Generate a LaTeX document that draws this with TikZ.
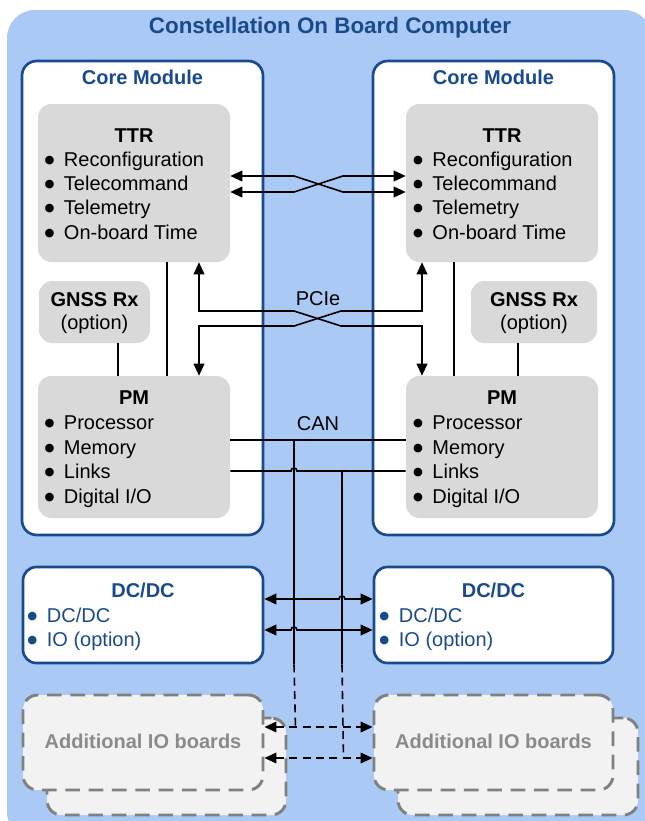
\documentclass[tikz,border=0pt]{standalone}
\usepackage{fontspec}
\setmainfont{Liberation Sans}
\newfontfamily\dotfont{DejaVu Sans}
\usetikzlibrary{calc}
\usetikzlibrary{arrows.meta}
\definecolor{board}{HTML}{ABC9F5}
\definecolor{navy}{HTML}{1A4A8E}
\definecolor{partgray}{HTML}{D9D9D9}
\definecolor{iofill}{HTML}{F2F2F2}
\definecolor{iodraw}{HTML}{808080}
\definecolor{iotext}{HTML}{8A8A8A}
\newlength{\px}
\setlength{\px}{0.75pt}
\newcommand*{\bul}{\makebox[14.6pt][l]{\raisebox{2pt}{\dotfont\fontsize{8.5}{9}\selectfont ●}}}

\begin{document}
\begin{tikzpicture}[x=0.75pt, y=-0.75pt, font=\fontsize{15}{18}\selectfont,
    >={Triangle[length=9pt,width=8pt]},
    core/.style  = {draw=navy, line width=2pt, fill=white, rounded corners=11pt, inner sep=0pt},
    part/.style  = {fill=partgray, rounded corners=10pt, inner sep=0pt},
    power/.style = {draw=navy, line width=2pt, fill=white, rounded corners=10pt, inner sep=0pt},
    extra/.style = {draw=iodraw, line width=2.2pt, fill=iofill, rounded corners=11pt, inner sep=0pt, dash pattern=on 11pt off 6.5pt},
    head/.style  = {anchor=base, inner sep=0pt, font=\fontsize{15}{18}\selectfont\bfseries},
    item/.style  = {anchor=base west, inner sep=0pt},
    wire/.style  = {line width=1.2pt},
    link/.style  = {wire, <->},
    dashline/.style = {dash pattern=on 6pt off 4pt}]
    \useasboundingbox (0,0) rectangle (644,821);
    \fill [board, rounded corners=21pt] (7,10) rectangle (652,840);
    \node [head, text=navy, font=\fontsize{16.8}{20}\selectfont\bfseries] (obc) at (330,33) {Constellation On Board Computer};

    \node [core, minimum width=241*\px, minimum height=474*\px] (coreL) at (142.5,298) {};
    \node [core, minimum width=241*\px, minimum height=474*\px] (coreR) at (493.5,298) {};
    \node [head, text=navy] (coreLt) at ($(coreL.north)+(0,25)$) {Core Module};
    \node [head, text=navy] (coreRt) at ($(coreR.north)+(0,25)$) {Core Module};

    \node [part, minimum width=192*\px, minimum height=158*\px] (ttrL) at (134,183) {};
    \node [part, minimum width=192*\px, minimum height=158*\px] (ttrR) at (502,183) {};
    \node [head] (ttrLt) at ($(ttrL)+(0,-41)$) {TTR};
    \node [head] (ttrRt) at ($(ttrR)+(0,-41)$) {TTR};
    \node [item] (ttrL1) at ($(ttrL.west)+(6.5,-17)$)  {\bul Reconfiguration};
    \node [item] (ttrL2) at ($(ttrL.west)+(6.5,7)$)    {\bul Telecommand};
    \node [item] (ttrL3) at ($(ttrL.west)+(6.5,31.5)$) {\bul Telemetry};
    \node [item] (ttrL4) at ($(ttrL.west)+(6.5,56)$)   {\bul On-board Time};
    \node [item] (ttrR1) at ($(ttrR.west)+(7,-17)$)    {\bul Reconfiguration};
    \node [item] (ttrR2) at ($(ttrR.west)+(7,7)$)      {\bul Telecommand};
    \node [item] (ttrR3) at ($(ttrR.west)+(7,31.5)$)   {\bul Telemetry};
    \node [item] (ttrR4) at ($(ttrR.west)+(7,56)$)     {\bul On-board Time};

    \node [part, minimum width=111*\px, minimum height=62*\px] (gnssL) at (94.5,312) {};
    \node [part, minimum width=126*\px, minimum height=62*\px] (gnssR) at (534,312) {};
    \node [head] (gnssLt) at ($(gnssL)+(0,-6)$) {GNSS Rx};
    \node [head] (gnssRt) at ($(gnssR)+(0,-6)$) {GNSS Rx};
    \node [anchor=base, inner sep=0pt] (gnssLo) at ($(gnssL)+(0,17.5)$) {(option)};
    \node [anchor=base, inner sep=0pt] (gnssRo) at ($(gnssR)+(0,17.5)$) {(option)};

    \node [part, minimum width=192*\px, minimum height=142*\px] (pmL) at (134,447) {};
    \node [part, minimum width=192*\px, minimum height=142*\px] (pmR) at (502,447) {};
    \node [head] (pmLt) at ($(pmL)+(0,-43)$) {PM};
    \node [head] (pmRt) at ($(pmR)+(0,-43)$) {PM};
    \node [item] (pmL1) at ($(pmL.west)+(6.5,-18)$)  {\bul Processor};
    \node [item] (pmL2) at ($(pmL.west)+(6.5,7)$)    {\bul Memory};
    \node [item] (pmL3) at ($(pmL.west)+(6.5,31)$)   {\bul Links};
    \node [item] (pmL4) at ($(pmL.west)+(6.5,56)$)   {\bul Digital I/O};
    \node [item] (pmR1) at ($(pmR.west)+(7,-18)$)    {\bul Processor};
    \node [item] (pmR2) at ($(pmR.west)+(7,7)$)      {\bul Memory};
    \node [item] (pmR3) at ($(pmR.west)+(7,31)$)     {\bul Links};
    \node [item] (pmR4) at ($(pmR.west)+(7,56)$)     {\bul Digital I/O};

    \node [power, minimum width=240*\px, minimum height=96*\px] (dcL) at (143,615) {};
    \node [power, minimum width=239*\px, minimum height=96*\px] (dcR) at (493.5,615) {};
    \node [head, text=navy] (dcLt) at ($(dcL)+(0,-18)$) {DC/DC};
    \node [head, text=navy] (dcRt) at ($(dcR)+(0,-18)$) {DC/DC};
    \node [item, text=navy] (dcL1) at ($(dcL.west)+(5.5,7)$)  {\bul DC/DC};
    \node [item, text=navy] (dcL2) at ($(dcL.west)+(5.5,31)$) {\bul IO (option)};
    \node [item, text=navy] (dcR1) at ($(dcR.west)+(6.5,7)$)  {\bul DC/DC};
    \node [item, text=navy] (dcR2) at ($(dcR.west)+(6.5,31)$) {\bul IO (option)};

    \node [extra, minimum width=239*\px, minimum height=97*\px] (ioLb) at (166.5,766.5) {};
    \node [extra, minimum width=240*\px, minimum height=95*\px] (ioL)  at (143,742.5) {};
    \node [extra, minimum width=240*\px, minimum height=97*\px] (ioRb) at (518,766.5) {};
    \node [extra, minimum width=239*\px, minimum height=95*\px] (ioR)  at (493.5,742.5) {};
    \node [head, text=iotext] (ioLt) at ($(ioL)+(0,5.5)$) {Additional IO boards};
    \node [head, text=iotext] (ioRt) at ($(ioR)+(0,5.5)$) {Additional IO boards};

    % links inside the core modules
    \draw [wire] ($(ttrL.south)+(33,0)$) -- ($(pmL.north)+(33,0)$);
    \draw [wire] ($(gnssL.south)+(23.5,0)$) -- ($(pmL.north)+(-16,0)$);
    \draw [wire] ($(ttrR.south)+(-48,0)$) -- ($(pmR.north)+(-48,0)$);
    \draw [wire] ($(gnssR.south)+(-16,0)$) -- ($(pmR.north)+(16,0)$);

    % cross links
    \draw [link] ($(ttrL.east)+(0,-7)$) -- (294,176) -- (343,192) -- ($(ttrR.west)+(0,9)$);
    \draw [link] ($(ttrL.east)+(0,9)$) -- (294,192) -- (343,176) -- ($(ttrR.west)+(0,-7)$);
    \draw [link] ($(ttrL.south)+(65,0)$) |- (294,311) -- (341,326) -| ($(pmR.north)+(-80,0)$);
    \draw [link] ($(pmL.north)+(65,0)$) |- (294,326) -- (341,311) -| ($(ttrR.south)+(-80,0)$);
    \node [anchor=base, inner sep=0pt] (pcie) at (318,305) {PCIe};
    \node [anchor=base, inner sep=0pt] (can) at (318,430) {CAN};

    % CAN bus
    \coordinate (busA) at (294,440);
    \coordinate (busB) at (342,471);
    \draw [wire] ($(pmL.east)+(0,-7)$) -- ($(pmR.west)+(0,-7)$);
    \draw [wire] ($(pmL.east)+(0,24)$) -- (291,471) arc [start angle=180, end angle=360, radius=3] -- ($(pmR.west)+(0,24)$);
    \draw [wire] (busA) -- (busA |- dcL.south);
    \draw [wire, dashline] (busA |- dcL.south) -- ($(ioL.east)+(31,-15.5)$);
    \draw [wire] (busB) -- (busB |- dcL.south);
    \draw [wire, dashline] (busB |- dcL.south) -- ($(ioL.east)+(79,15.5)$);
    \draw [link] ($(dcL.east)+(0,-16)$) -- (339,599) arc [start angle=180, end angle=360, radius=3] -- ($(dcR.west)+(0,-16)$);
    \draw [link] ($(dcL.east)+(0,15)$) -- (291,630) arc [start angle=180, end angle=360, radius=3] -- ($(dcR.west)+(0,15)$);
    \draw [link, dashline] ($(ioL.east)+(0,-15.5)$) -- ($(ioR.west)+(0,-15.5)$);
    \draw [link, dashline] ($(ioL.east)+(0,15.5)$) -- ($(ioR.west)+(0,15.5)$);
\end{tikzpicture}
\end{document}
